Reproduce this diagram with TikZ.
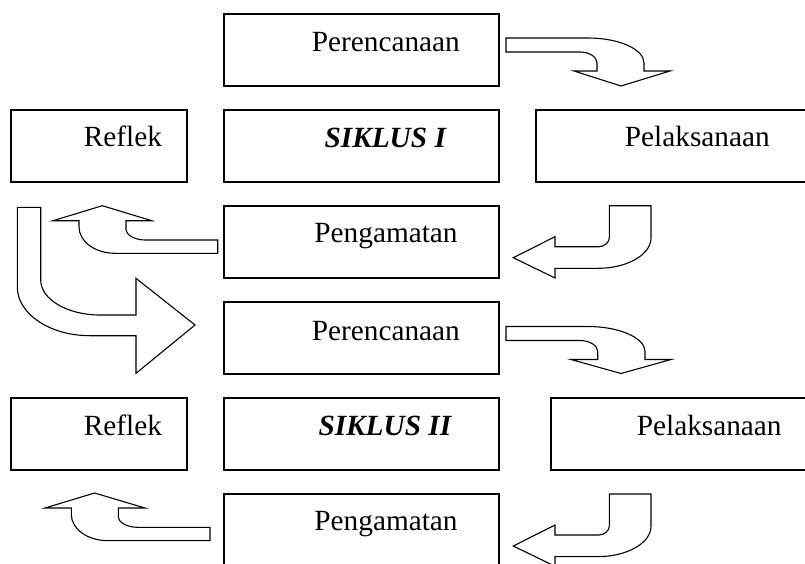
\documentclass[tikz,border=0pt]{standalone}
\usepackage{fontspec}
\setmainfont{Liberation Serif}
\begin{document}
\begin{tikzpicture}[x=1pt,y=-1pt,
  box/.style={draw=black, line width=1.6pt, fill=white, rectangle, inner sep=0pt, outer sep=0pt, anchor=north west},
  lbl/.style={anchor=base west, inner sep=0pt, font=\fontsize{29.3pt}{35pt}\selectfont},
  blk/.style={draw=black, line width=1.1pt, fill=white, line join=miter}]
\useasboundingbox (0,0) rectangle (805,563);
\clip (0,0) rectangle (805,563);
\fill[white] (0,0) rectangle (805,563);
% boxes, cycle I
\node[box, minimum width=275pt, minimum height=72pt] (p1) at (224,14) {};
\node[box, minimum width=176pt, minimum height=72pt] (r1) at (11,110) {};
\node[box, minimum width=275pt, minimum height=72pt] (s1) at (224,110) {};
\node[box, minimum width=274pt, minimum height=72pt] (l1) at (536,110) {};
\node[box, minimum width=275pt, minimum height=72pt] (g1) at (224,206) {};
% boxes, cycle II
\node[box, minimum width=275pt, minimum height=72.3pt] (p2) at (224,301.7) {};
\node[box, minimum width=176pt, minimum height=72.3pt] (r2) at (11,397.7) {};
\node[box, minimum width=275pt, minimum height=72.3pt] (s2) at (224,397.7) {};
\node[box, minimum width=259pt, minimum height=72.3pt] (l2) at (551,397.7) {};
\node[box, minimum width=275pt, minimum height=100pt] (g2) at (224,494) {};
% labels
\node[lbl] (tp1) at (311.6,51) {Perencanaan};
\node[lbl] (tr1) at (83.7,146.7) {Reflek};
\node[lbl] (ts1) at (324.4,147.2) {\bfseries\itshape SIKLUS I};
\node[lbl] (tl1) at (624.7,146.7) {Pelaksanaan};
\node[lbl] (tg1) at (314.2,242.7) {Pengamatan};
\node[lbl] (tp2) at (311.6,340) {Perencanaan};
\node[lbl] (tr2) at (83.7,435.7) {Reflek};
\node[lbl] (ts2) at (318.3,435.7) {\bfseries\itshape SIKLUS II};
\node[lbl] (tl2) at (636.6,435.7) {Pelaksanaan};
\node[lbl] (tg2) at (314.2,530.7) {Pengamatan};
% block arrow: Perencanaan -> Pelaksanaan (I)
\draw[blk] (506,38) -- (588,38) .. controls (619,38) and (644,49.2) .. (644,63) -- (644,71) -- (670,71) -- (621,86) -- (574,71) -- (597,71) -- (597,63) .. controls (597,56.9) and (589.4,52) .. (580,52) -- (506,52) -- cycle;
% block arrow: Pelaksanaan -> Pengamatan (I)
\draw[blk] (609.3,205.7) -- (651,205.7) -- (651,238) .. controls (651,254.6) and (627.3,268.3) .. (598,268.3) -- (555,268.3) -- (555,278) -- (513.3,257.7) -- (555,236.7) -- (555,246.7) -- (599,246.7) .. controls (604.5,246.7) and (609.3,242) .. (609.3,238) -- cycle;
% block arrow: Pengamatan -> Reflek (I)
\draw[blk] (217.7,240) -- (145,240) .. controls (134.5,240) and (126,234.5) .. (126,230) -- (126,220.7) -- (151.7,220.7) -- (102.3,205.7) -- (53,220.7) -- (79,220.7) -- (79,227) .. controls (79,241.5) and (95.1,253.3) .. (115,253.3) -- (217.7,253.3) -- cycle;
% big block arrow: Reflek -> Perencanaan (II)
\draw[blk] (17.3,207.3) -- (40.7,207.3) -- (40.7,280) .. controls (40.7,299.3) and (67.3,315) .. (100,315) -- (136,315) -- (136,278.3) -- (195,325) -- (136,373.3) -- (136,335.7) -- (90,335.7) .. controls (49.9,335.7) and (17.3,313.9) .. (17.3,287) -- cycle;
% block arrow: Perencanaan -> Pelaksanaan (II)
\begin{scope}[shift={(0,288.5)}]
\draw[blk] (506,38) -- (588,38) .. controls (619,38) and (645,49.2) .. (645,63) -- (645,71) -- (671,71) -- (621,85) -- (571,71) -- (597.7,71) -- (597.7,63) .. controls (597.7,56.9) and (589.4,52) .. (580,52) -- (506,52) -- cycle;
\end{scope}
% block arrow: Pelaksanaan -> Pengamatan (II)
\begin{scope}[shift={(0,288.3)}]
\draw[blk] (609.3,205.7) -- (651,205.7) -- (651,238) .. controls (651,254.6) and (627.3,268.3) .. (598,268.3) -- (555,268.3) -- (555,278) -- (513.3,257.7) -- (555,236.7) -- (555,246.7) -- (599,246.7) .. controls (604.5,246.7) and (609.3,242) .. (609.3,238) -- cycle;
\end{scope}
% block arrow: Pengamatan -> left (II)
\begin{scope}[shift={(-7.7,287.3)}]
\draw[blk] (217.7,240) -- (145,240) .. controls (134.5,240) and (126,234.5) .. (126,230) -- (126,220.7) -- (152.7,220.7) -- (102.3,205.7) -- (52.7,220.7) -- (79,220.7) -- (79,227) .. controls (79,241.5) and (95.1,253.3) .. (115,253.3) -- (217.7,253.3) -- cycle;
\end{scope}
\end{tikzpicture}
\end{document}
